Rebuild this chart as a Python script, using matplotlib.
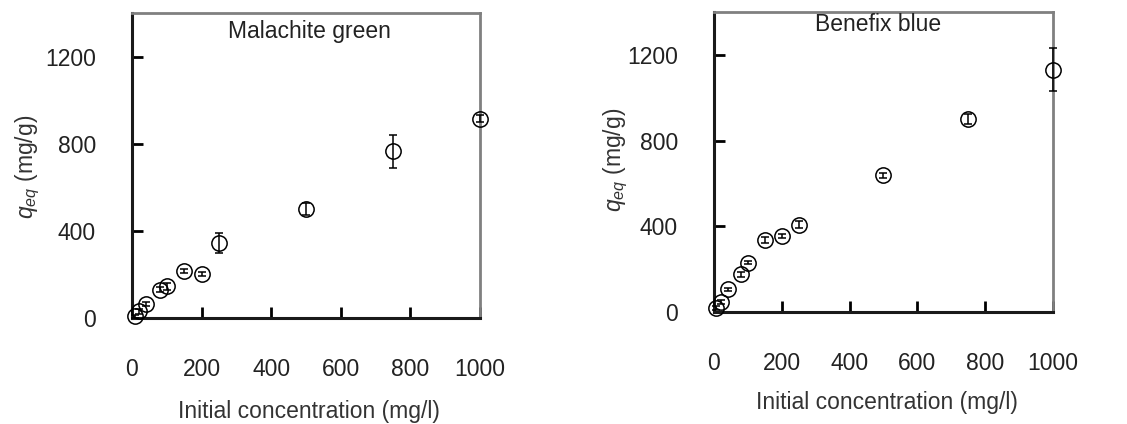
import numpy as np
import matplotlib
matplotlib.use("Agg")
import matplotlib.pyplot as plt

plt.rcParams["font.family"] = ["Liberation Sans", "DejaVu Sans"]
plt.rcParams["mathtext.fontset"] = "custom"
plt.rcParams["mathtext.it"] = "Liberation Sans:italic"
plt.rcParams["mathtext.rm"] = "Liberation Sans"

# Malachite green
mg_conc = [10, 20, 40, 80, 100, 150, 200, 250, 500, 750, 1000]
mg_q = [8, 30, 65, 130, 145, 215, 203, 345, 500, 765, 915]
mg_err = [8, 10, 10, 12, 15, 8, 8, 45, 27, 75, 15]

# Benefix blue
bb_conc = [5, 20, 40, 80, 100, 150, 200, 250, 500, 750, 1000]
bb_q = [18, 45, 105, 175, 230, 335, 355, 408, 638, 900, 1130]
bb_err = [10, 10, 8, 10, 8, 15, 10, 15, 12, 25, 100]

xticks = [0, 200, 400, 600, 800, 1000]
yticks = [0, 400, 800, 1200]

fs = 16.5

fig = plt.figure(figsize=(11.27, 4.24), dpi=100)
ax1 = fig.add_axes([0.1171, 0.25, 0.3088, 0.7193])
ax2 = fig.add_axes([0.6335, 0.2642, 0.3008, 0.7075])


def style(ax, x, y, err, title, tpos, xlab_pos, ylab_pos):
    ax.errorbar(x, y, yerr=err, fmt="o", mfc="none", mec="black", ms=11,
                mew=1.1, ecolor="black", elinewidth=1.1, capsize=3,
                capthick=1.1, clip_on=False, zorder=3)
    ax.set_xlim(0, 1000)
    ax.set_ylim(0, 1400)
    ax.set_xticks(xticks)
    ax.set_yticks(yticks)
    ax.tick_params(direction="in", length=8, width=2, labelsize=fs,
                   colors="black", labelcolor="#222222")
    ax.tick_params(axis="x", pad=29)
    ax.tick_params(axis="y", pad=26)
    for s in ["left", "bottom"]:
        ax.spines[s].set_linewidth(2.2)
        ax.spines[s].set_color("#1a1a1a")
    for s in ["top", "right"]:
        ax.spines[s].set_linewidth(2)
        ax.spines[s].set_color("#808080")
    ax.text(tpos[0], tpos[1], title, transform=ax.transAxes, ha="center",
            va="center", fontsize=fs, color="#222222")
    ax.set_xlabel("Initial concentration (mg/l)", fontsize=fs,
                  color="#333333", va="center")
    ax.set_ylabel(r"$q_{eq}$ (mg/g)", fontsize=fs, color="#333333",
                  va="center")
    ax.xaxis.set_label_coords(*xlab_pos)
    ax.yaxis.set_label_coords(*ylab_pos)


style(ax1, mg_conc, mg_q, mg_err, "Malachite green", (0.511, 0.938),
      (0.509, -0.308), (-0.298, 0.495))
style(ax2, bb_conc, bb_q, bb_err, "Benefix blue", (0.484, 0.957),
      (0.51, -0.303), (-0.29, 0.507))

fig.savefig("out.png", dpi=100)
